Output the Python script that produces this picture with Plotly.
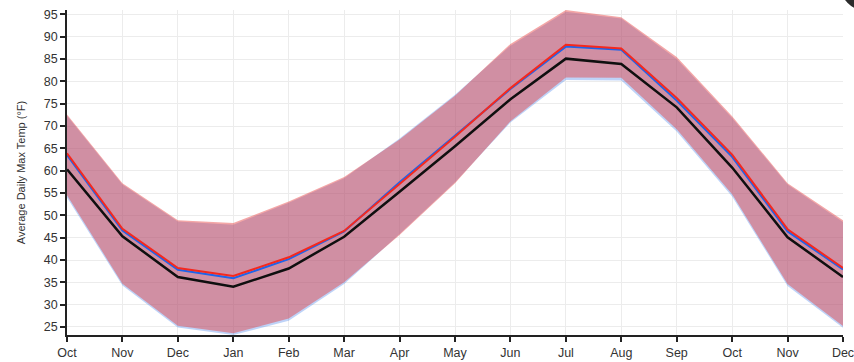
import plotly.graph_objects as go

# Month ticks (Oct of one year through Dec of the next)
months = ["Oct", "Nov", "Dec", "Jan", "Feb", "Mar", "Apr", "May",
          "Jun", "Jul", "Aug", "Sep", "Oct", "Nov", "Dec"]

# Mean daily max temperatures (°F)
overall_mean = [60.3, 45.3, 36.2, 34.0, 38.1, 45.2, 55.3, 65.5,
                76.0, 85.1, 83.9, 74.2, 60.7, 45.1, 36.2]
red_mean = [63.9, 47.0, 38.2, 36.4, 40.6, 46.5, 57.0, 67.6,
            78.5, 88.2, 87.4, 76.3, 63.6, 46.9, 38.2]
blue_mean = [63.5, 46.6, 37.8, 35.9, 40.2, 46.4, 57.4, 67.9,
             78.3, 87.8, 87.1, 75.7, 63.1, 46.4, 37.9]

# Spread bands around each series
red_upper = [72.6, 57.2, 48.9, 48.3, 53.1, 58.6, 67.0, 76.8,
             88.4, 96.0, 94.4, 85.5, 72.2, 57.2, 48.9]
red_lower = [54.5, 34.7, 25.3, 23.6, 26.9, 35.0, 45.6, 57.2,
             71.1, 80.9, 80.8, 69.3, 54.7, 34.6, 25.2]
blue_upper = [72.3, 56.9, 48.6, 47.9, 52.8, 58.3, 67.2, 77.0,
              88.0, 95.6, 94.1, 85.0, 71.8, 56.9, 48.5]
blue_lower = [54.0, 34.3, 24.9, 23.2, 26.4, 34.6, 45.8, 57.4,
              70.8, 80.3, 80.2, 68.8, 54.2, 34.2, 24.8]

x = list(range(len(months)))

fig = go.Figure()


def add_band(upper, lower, color):
    fig.add_trace(go.Scatter(x=x, y=upper, mode="lines", line=dict(width=0),
                             hoverinfo="skip", showlegend=False))
    fig.add_trace(go.Scatter(x=x, y=lower, mode="lines", line=dict(width=0),
                             fill="tonexty", fillcolor=color,
                             hoverinfo="skip", showlegend=False))


add_band(blue_upper, blue_lower, "rgba(70,130,235,0.35)")
add_band(red_upper, red_lower, "rgba(230,60,60,0.45)")

fig.add_trace(go.Scatter(x=x, y=blue_mean, mode="lines",
                         line=dict(color="rgb(30,100,235)", width=2),
                         showlegend=False))
fig.add_trace(go.Scatter(x=x, y=red_mean, mode="lines",
                         line=dict(color="rgb(245,40,30)", width=2),
                         showlegend=False))
fig.add_trace(go.Scatter(x=x, y=overall_mean, mode="lines",
                         line=dict(color="rgb(15,15,15)", width=2.5),
                         showlegend=False))

axis_font = dict(family="Liberation Sans, Arial, sans-serif", size=12.5, color="#333")

fig.update_layout(
    width=854, height=362,
    margin=dict(l=67, r=11, t=10, b=27),
    paper_bgcolor="white", plot_bgcolor="white",
    font=axis_font,
    xaxis=dict(
        range=[0, 14], tickmode="array", tickvals=x, ticktext=months,
        showgrid=True, gridcolor="#ececec", gridwidth=1,
        showline=True, linecolor="#222", linewidth=1.5,
        ticks="outside", ticklen=5, tickcolor="#222", tickwidth=1.5,
        zeroline=False, tickfont=axis_font, automargin=False,
        ticklabeloverflow="allow",
    ),
    yaxis=dict(
        range=[23.2, 96], tickmode="array", tickvals=list(range(25, 96, 5)),
        showgrid=True, gridcolor="#ececec", gridwidth=1,
        showline=True, linecolor="#222", linewidth=1.5,
        ticks="outside", ticklen=5, tickcolor="#222", tickwidth=1.5,
        zeroline=False, tickfont=axis_font, automargin=False,
        ticklabeloverflow="allow",
        title=dict(text="Average Daily Max Temp (°F)",
                   font=dict(family="Liberation Sans, Arial, sans-serif",
                             size=11, color="#333"),
                   standoff=16),
    ),
    shapes=[dict(type="circle", xref="paper", yref="paper",
                 x0=0.9936, x1=1.076, y0=0.9938, y1=1.191,
                 fillcolor="#2b2b2b", line=dict(width=0), layer="above")],
)

fig.write_html("out.html")
